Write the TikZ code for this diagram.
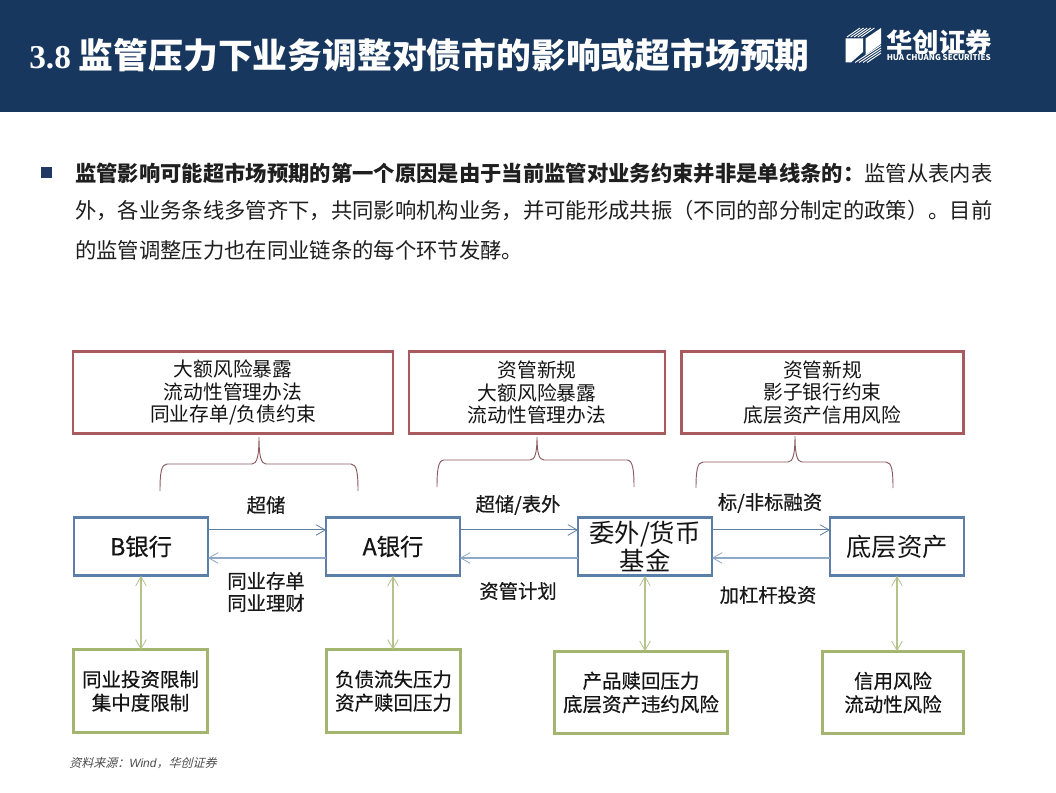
\documentclass[tikz,border=0pt]{standalone}
\usepackage{fontspec}
\setmainfont{Noto Sans CJK SC}
\newfontfamily\latinserif{Liberation Serif}
\newfontfamily\latinsans{Liberation Sans}
\newfontfamily\cjkslant[FakeSlant=0.25]{Noto Sans CJK SC}
\newfontfamily\cjkmed[FakeBold=0.5]{Noto Sans CJK SC}
\definecolor{hdr}{HTML}{17375E}
\definecolor{navy}{HTML}{1F3864}
\definecolor{redb}{HTML}{A95A5E}
\definecolor{blueb}{HTML}{5B7FA8}
\definecolor{greenb}{HTML}{A3B56E}
\definecolor{brc}{HTML}{8C5A5E}
\definecolor{arrtop}{HTML}{5F7FA0}
\definecolor{arrbot}{HTML}{8FA8C6}
\definecolor{arrgreen}{HTML}{B4C28C}
\usetikzlibrary{arrows.meta}
\tikzset{
  x=0.75pt,y=-0.75pt,
  box/.style={draw,fill=white,line width=2.2pt,inner sep=0pt,outer sep=0pt,align=center,text=black!92},
  redbox/.style={box,draw=redb,font=\fontsize{14.8}{16.6}\selectfont},
  bluebox/.style={box,draw=blueb,minimum width=100.5pt,minimum height=44pt,font=\fontsize{19}{21}\selectfont},
  bankbox/.style={bluebox,font=\fontsize{17.5}{20}\cjkmed\selectfont},
  greenbox/.style={box,draw=greenb,font=\fontsize{14.6}{17.6}\cjkmed\selectfont},
  lbl/.style={inner sep=0pt,align=center,text=black!90,font=\fontsize{14.5}{16.6}\cjkmed\selectfont},
  body/.style={anchor=west,inner sep=0pt,text=black!88,font=\fontsize{16}{18}\selectfont},
  flow/.style={-{Straight Barb[length=7pt,width=8pt,line width=0.6pt]},line width=0.75pt,draw=arrtop},
  back/.style={-{Straight Barb[length=7pt,width=8pt,line width=0.6pt]},line width=1pt,draw=arrbot},
  link/.style={{Straight Barb[length=7pt,width=8pt,line width=0.6pt]}-{Straight Barb[length=7pt,width=8pt,line width=0.6pt]},line width=0.8pt,draw=arrgreen},
  brace/.style={draw=brc,line width=0.7pt}
}
\begin{document}
\begin{tikzpicture}
\useasboundingbox (0,0) rectangle (1056,792);
\fill[white] (0,0) rectangle (1056,792);
\fill[hdr] (0,0) rectangle (1056,112);
% title
\node[anchor=west,inner sep=0pt,text=white] (title) at (29,55) {{\latinserif\bfseries\fontsize{25}{26}\selectfont 3.8}\hspace{6pt}{\bfseries\fontsize{26.1}{30}\selectfont 监管压力下业务调整对债市的影响或超市场预期}};
% logo
\fill[white] (845.5,38.5) -- (863,38.5) -- (863,52) -- (851,62.5) -- (845.5,62.5) -- cycle;
\fill[white] (865.5,38.5) -- (881,28) -- (881,44) -- (865.5,55) -- cycle;
\foreach \i in {0,1,2,3,4} {
  \draw[white,line width=0.7pt] ({847+3.6*\i},37) -- ({860+3.6*\i},28);
}
\foreach \i in {0,1,2,3} {
  \draw[white,line width=0.7pt] ({855+4*\i},62.5) -- (881,{45.5+2.5*\i});
}
\node[anchor=west,inner sep=0pt,text=white] (logocn) at (886,42) {\bfseries\fontsize{19.8}{22}\selectfont 华创证券};
\node[anchor=west,inner sep=0pt,text=white] (logoen) at (886.5,58) {\bfseries\fontsize{6}{8}\selectfont HUA CHUANG SECURITIES};
% body
\fill[navy] (41,167) rectangle (52,178);
\node[body] (l1) at (75,173) {{\bfseries 监管影响可能超市场预期的第一个原因是由于当前监管对业务约束并非是单线条的：}监管从表内表};
\node[body] (l2) at (75,211) {外，各业务条线多管齐下，共同影响机构业务，并可能形成共振（不同的部分制定的政策）。目前};
\node[body] (l3) at (75,250) {的监管调整压力也在同业链条的每个环节发酵。};
% red boxes
\node[redbox,minimum width=240pt,minimum height=62pt] (r1) at (233,392.5) {\raisebox{-0.7pt}{大额风险暴露}\\\raisebox{-0.7pt}{流动性管理办法}\\\raisebox{-0.7pt}{同业存单/负债约束}};
\node[redbox,minimum width=192pt,minimum height=62pt] (r2) at (537,392.5) {\raisebox{-0.7pt}{资管新规}\\\raisebox{-0.7pt}{大额风险暴露}\\\raisebox{-0.7pt}{流动性管理办法}};
\node[redbox,minimum width=212pt,minimum height=62pt] (r3) at (822.5,392.5) {\raisebox{-0.7pt}{资管新规}\\\raisebox{-0.7pt}{影子银行约束}\\\raisebox{-0.7pt}{底层资产信用风险}};
% blue boxes
\node[bankbox] (b) at (141,546.5) {B银行};
\node[bankbox] (a) at (393,546.5) {A银行};
\node[bluebox] (f) at (645,546.5) {委外/货币\\基金};
\node[bluebox] (u) at (897,546.5) {底层资产};
% green boxes
\node[greenbox,minimum width=101pt,minimum height=62pt] (g1) at (140.5,691) {同业投资限制\\集中度限制};
\node[greenbox,minimum width=101pt,minimum height=62pt] (g2) at (393.5,691) {负债流失压力\\资产赎回压力};
\node[greenbox,minimum width=130pt,minimum height=62pt] (g3) at (641,692.5) {产品赎回压力\\底层资产违约风险};
\node[greenbox,minimum width=106pt,minimum height=62pt] (g4) at (893,692.5) {信用风险\\流动性风险};
% horizontal connectors
\draw[flow] ([yshift=12.4pt]b.east) -- ([yshift=12.4pt]a.west);
\draw[flow] ([yshift=12.4pt]a.east) -- ([yshift=12.4pt]f.west);
\draw[flow] ([yshift=12.4pt]f.east) -- ([yshift=12.4pt]u.west);
\draw[back] ([yshift=-8.6pt]a.west) -- ([yshift=-8.6pt]b.east);
\draw[back] ([yshift=-8.6pt]f.west) -- ([yshift=-8.6pt]a.east);
\draw[back] ([yshift=-8.6pt]u.west) -- ([yshift=-8.6pt]f.east);
% vertical connectors
\draw[link] (b.south) -- (b.south |- g1.north);
\draw[link] (a.south) -- (a.south |- g2.north);
\draw[link] (f.south) -- (f.south |- g3.north);
\draw[link] (u.south) -- (u.south |- g4.north);
% braces
\coordinate (t1) at (259,437);
\coordinate (t2) at (537,437);
\coordinate (t3) at (795,436);
\draw[brace] (160,491) .. controls (160,474) and (161,464) .. (167,464) -- (252,464) .. controls (257,464) and (259,456) .. (t1) .. controls (259,456) and (261,464) .. (266,464) -- (351,464) .. controls (357,464) and (358,474) .. (358,491);
\draw[brace] (437,487) .. controls (437,471) and (438,460) .. (444,460) -- (530,460) .. controls (535,460) and (537,453) .. (t2) .. controls (537,453) and (539,460) .. (544,460) -- (627,460) .. controls (633,460) and (634,471) .. (634,487);
\draw[brace] (696,488) .. controls (696,472) and (697,462) .. (703,462) -- (788,462) .. controls (793,462) and (795,454) .. (t3) .. controls (795,454) and (797,462) .. (802,462) -- (886,462) .. controls (892,462) and (893,472) .. (893,488);
% labels
\node[lbl] (t_a) at (266,505) {超储};
\node[lbl] (t_b) at (266,592) {同业存单\\同业理财};
\node[lbl] (t_c) at (518,505) {超储/表外};
\node[lbl] (t_d) at (518,591) {资管计划};
\node[lbl] (t_e) at (770,503) {标/非标融资};
\node[lbl] (t_f) at (768,595) {加杠杆投资};
% source
\node[anchor=west,inner sep=0pt,text=black!70] (src) at (69,763) {\fontsize{9}{10}\cjkslant\selectfont 资料来源：{\latinsans\itshape Wind}，华创证券};
\end{tikzpicture}
\end{document}
